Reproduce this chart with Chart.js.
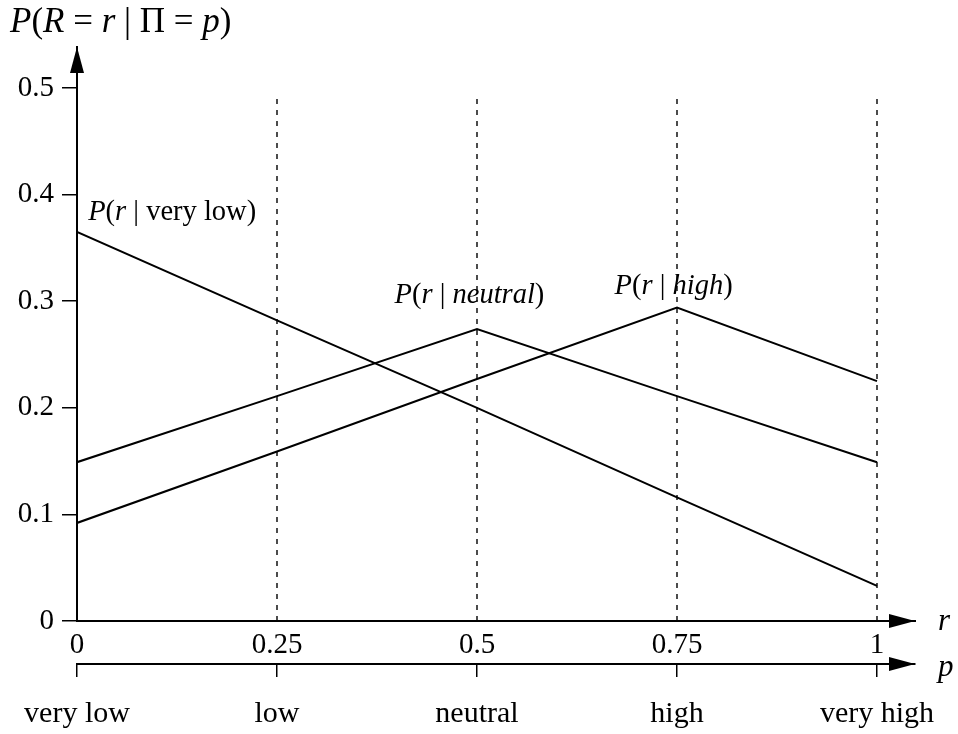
<!DOCTYPE html>
<html>
<head>
<meta charset="utf-8">
<script src="https://cdn.jsdelivr.net/npm/chart.js@4"></script>
<style>
  html, body { margin: 0; padding: 0; background: #fff; }
  #wrap { width: 958px; height: 734px; }
</style>
</head>
<body>
<div id="wrap"><canvas id="myChart"></canvas></div>
<script>
// data
const rValues = [0, 0.25, 0.5, 0.75, 1];
const rTickLabels = ["0", "0.25", "0.5", "0.75", "1"];
const pLabels = ["very low", "low", "neutral", "high", "very high"];
const yTicks = [0, 0.1, 0.2, 0.3, 0.4, 0.5];
const yTickLabels = ["0", "0.1", "0.2", "0.3", "0.4", "0.5"];
const pVeryLow = [0.365, 0.282, 0.2, 0.116, 0.033];
const pNeutral = [0.149, 0.211, 0.274, 0.211, 0.149];
const pHigh = [0.092, 0.159, 0.227, 0.294, 0.225];
const guideTop = 0.49;

const serif = "'Liberation Serif', 'DejaVu Serif', serif";
Chart.defaults.font.family = serif;
Chart.defaults.color = "#000";

function curve(vals) {
  return {
    data: rValues.map((r, i) => ({ x: r, y: vals[i] })),
    borderColor: "#000",
    borderWidth: 2,
    pointRadius: 0,
    tension: 0,
    fill: false
  };
}

// dashed verticals at every r tick except 0
const guides = rValues.slice(1).map(r => ({
  data: [{ x: r, y: 0 }, { x: r, y: guideTop }],
  borderColor: "#000",
  borderWidth: 1.4,
  borderDash: [5, 6],
  pointRadius: 0,
  fill: false
}));

// text with roman / italic pieces
function richText(ctx, parts, x, y, size) {
  ctx.textBaseline = "alphabetic";
  ctx.textAlign = "left";
  for (const [txt, it] of parts) {
    ctx.font = (it ? "italic " : "") + size + "px " + serif;
    ctx.fillText(txt, x, y);
    x += ctx.measureText(txt).width;
  }
}

function arrow(ctx, tipX, tipY, dir) {
  const len = 26, half = 7;
  ctx.beginPath();
  if (dir === "up") {
    ctx.moveTo(tipX, tipY);
    ctx.lineTo(tipX - half, tipY + len);
    ctx.lineTo(tipX + half, tipY + len);
  } else {
    ctx.moveTo(tipX, tipY);
    ctx.lineTo(tipX - len, tipY - half);
    ctx.lineTo(tipX - len, tipY + half);
  }
  ctx.closePath();
  ctx.fill();
}

const decorations = {
  id: "decorations",
  afterDraw(chart) {
    const ctx = chart.ctx;
    const { x, x2, y } = chart.scales;
    ctx.save();
    ctx.fillStyle = "#000";
    arrow(ctx, y.right, y.top, "up");
    arrow(ctx, x.right, x.top, "right");
    arrow(ctx, x2.right, x2.top, "right");

    richText(ctx, [["r", 1]], x.right + 23, x.top + 9, 31);
    richText(ctx, [["p", 1]], x2.right + 23, x2.top + 12, 31);

    richText(ctx, [["P", 1], ["(", 0], ["R", 1], [" = ", 0], ["r", 1], [" | ", 0], ["\u03A0", 0], [" = ", 0], ["p", 1], [")", 0]], 10, 32, 35);

    richText(ctx, [["P", 1], ["(", 0], ["r", 1], [" | ", 0], ["very low", 0], [")", 0]],
      x.getPixelForValue(0.014), y.getPixelForValue(0.376), 28.5);
    richText(ctx, [["P", 1], ["(", 0], ["r", 1], [" | ", 0], ["neutral", 1], [")", 0]],
      x.getPixelForValue(0.397), y.getPixelForValue(0.298), 28.5);
    richText(ctx, [["P", 1], ["(", 0], ["r", 1], [" | ", 0], ["high", 1], [")", 0]],
      x.getPixelForValue(0.672), y.getPixelForValue(0.307), 28.5);
    ctx.restore();
  }
};

const ctx = document.getElementById("myChart").getContext("2d");
const myChart = new Chart(ctx, {
  type: "line",
  data: {
    datasets: [curve(pVeryLow), curve(pNeutral), curve(pHigh)].concat(guides)
  },
  options: {
    responsive: true,
    maintainAspectRatio: false,
    animation: false,
    events: [],
    layout: { padding: { top: 47, right: 43, left: 0, bottom: 0 } },
    plugins: { legend: { display: false }, title: { display: false }, tooltip: { enabled: false } },
    scales: {
      x: {
        type: "linear", position: "bottom", weight: 0,
        min: 0, max: 1.0475,
        afterBuildTicks: s => { s.ticks = rValues.map(v => ({ value: v })); },
        afterFit: s => { s.height = 43; },
        ticks: { callback: (v, i) => rTickLabels[i], font: { size: 29 }, padding: 7, maxRotation: 0, autoSkip: false },
        grid: { display: false, drawTicks: false },
        border: { display: true, color: "#000", width: 2 }
      },
      x2: {
        type: "linear", position: "bottom", weight: 1,
        min: 0, max: 1.0475,
        afterBuildTicks: s => { s.ticks = rValues.map(v => ({ value: v })); },
        afterFit: s => { s.height = 70; },
        ticks: { callback: (v, i) => pLabels[i], font: { size: 30 }, padding: 19, maxRotation: 0, autoSkip: false },
        grid: { drawOnChartArea: false, tickLength: 13, color: "#000", lineWidth: 1.5 },
        border: { display: true, color: "#000", width: 2 }
      },
      y: {
        type: "linear", position: "left",
        min: 0, max: 0.5385,
        afterBuildTicks: s => { s.ticks = yTicks.map(v => ({ value: v })); },
        afterFit: s => { s.width = 77; },
        ticks: { callback: (v, i) => yTickLabels[i], font: { size: 29 }, padding: 8 },
        grid: { drawOnChartArea: false, tickLength: 15, color: "#000", lineWidth: 1.5 },
        border: { display: true, color: "#000", width: 2 }
      }
    }
  },
  plugins: [decorations]
});
</script>
</body>
</html>
